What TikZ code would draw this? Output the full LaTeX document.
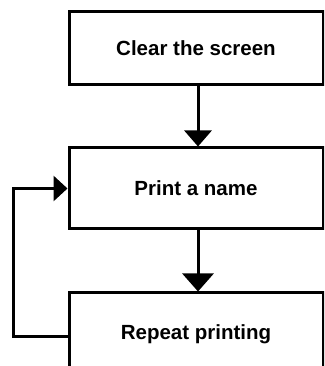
\documentclass[tikz,border=0pt]{standalone}
\usepackage{fontspec}
\setmainfont{Liberation Sans}
\usetikzlibrary{arrows.meta}
\begin{document}
\begin{tikzpicture}[x=1pt,y=1pt,
  box/.style={draw=black,line width=3pt,fill=white,minimum width=254pt,inner sep=0pt,
    font=\fontsize{20.5}{24}\selectfont\bfseries},
  conn/.style={line width=3pt,draw=black}]
\useasboundingbox (0,0) rectangle (324,366);
\clip (0,0) rectangle (324,366);
\node[box,minimum height=73pt] (b1) at (196,317.5) {Clear the screen};
\node[box,minimum height=81pt] (b2) at (196,177.5) {Print a name};
\node[box,minimum height=82pt] (b3) at (196,32) {Repeat printing};
\draw[conn,-{Triangle[width=27pt,length=16pt]}] (b1.south -| 198,0) -- (b2.north -| 198,0);
\draw[conn,-{Triangle[width=31pt,length=18pt]}] (b2.south -| 198,0) -- (b3.north -| 198,0);
\coordinate (lc) at (13,29);
\draw[conn,-{Triangle[width=25pt,length=14pt]},line join=miter] ([yshift=-3pt]b3.west) -- (lc) |- (b2.west);
\end{tikzpicture}
\end{document}
